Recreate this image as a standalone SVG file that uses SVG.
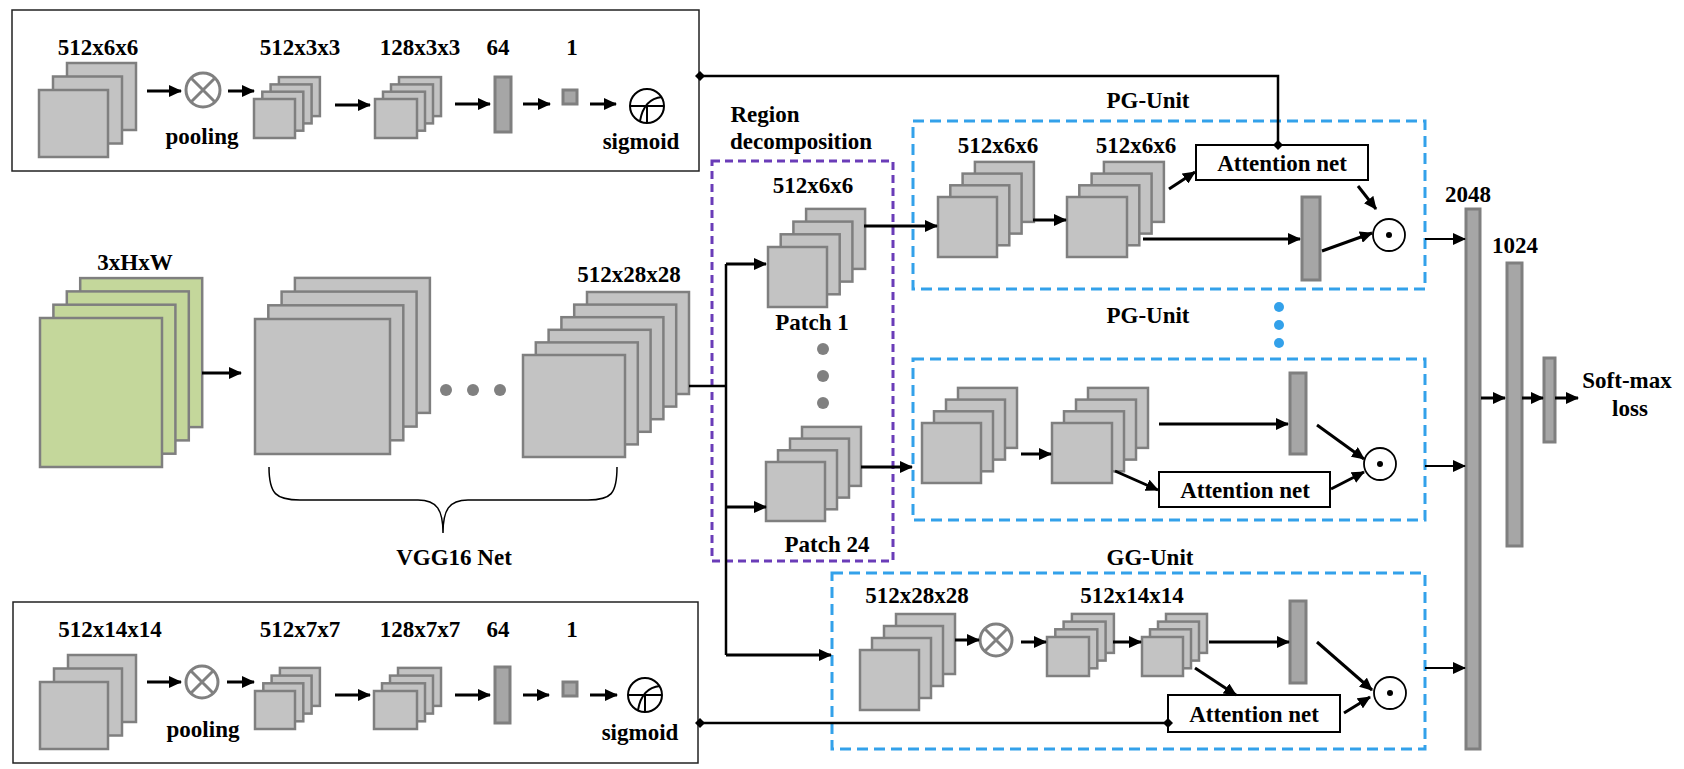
<svg xmlns="http://www.w3.org/2000/svg" width="1684" height="769" viewBox="0 0 1684 769">
<style>
text{font-family:"Liberation Serif","Times New Roman",serif;font-weight:bold;font-size:23px;fill:#000;text-anchor:middle}
.fm rect{fill:#c3c3c3;stroke:#7f7f7f;stroke-width:2.5}
.gr rect{fill:#c4d79b;stroke:#7f7f7f;stroke-width:2.5}
.bar{fill:#a6a6a6;stroke:#7f7f7f;stroke-width:3}
.box{fill:none;stroke:#222;stroke-width:1.5}
.att{fill:#fff;stroke:#000;stroke-width:2}
.blue{fill:none;stroke:#33a1ea;stroke-width:3;stroke-dasharray:11 6}
.purple{fill:none;stroke:#6a3cb8;stroke-width:3;stroke-dasharray:8 5}
.ar{fill:none;stroke:#000;stroke-width:3;marker-end:url(#ah)}
.art{fill:none;stroke:#000;stroke-width:2;marker-end:url(#ah)}
.ln{fill:none;stroke:#000;stroke-width:2.5}
.dl{fill:none;stroke:#000;stroke-width:2.5;marker-start:url(#dm);marker-end:url(#dm)}
.pool circle{fill:none;stroke:#808080;stroke-width:3}
.pool path{stroke:#808080;stroke-width:3}
.sig circle,.sig path{fill:none;stroke:#000;stroke-width:2}
.dot circle.o{fill:#fff;stroke:#000;stroke-width:1.8}
.gd{fill:#808080}
.bd{fill:#33a1ea}
</style>
<defs>
<marker id="ah" markerUnits="userSpaceOnUse" markerWidth="13" markerHeight="12" refX="12" refY="6" orient="auto"><path d="M0,0 L13,6 L0,12 z" fill="#000"/></marker>
<marker id="dm" markerUnits="userSpaceOnUse" markerWidth="10" markerHeight="10" refX="5" refY="5" orient="auto"><path d="M0,5 L5,0 L10,5 L5,10 z" fill="#000"/></marker>
</defs>

<!-- Top attention branch box -->
<g id="top-branch">
<rect class="box" x="12" y="10" width="687" height="161"/>
<text x="98" y="55">512x6x6</text>
<text x="300" y="55">512x3x3</text>
<text x="420" y="55">128x3x3</text>
<text x="498" y="55">64</text>
<text x="572" y="55">1</text>
<text x="202" y="144">pooling</text>
<text x="641" y="149">sigmoid</text>
<g class="fm">
<rect x="67" y="63" width="69" height="67"/><rect x="53" y="76.5" width="69" height="67"/><rect x="39" y="90" width="69" height="67"/>
</g>
<g class="fm">
<rect x="278.9" y="77.1" width="41" height="39"/><rect x="270.6" y="84.4" width="41" height="39"/><rect x="262.3" y="91.7" width="41" height="39"/><rect x="254" y="99" width="41" height="39"/>
</g>
<g class="fm">
<rect x="399" y="77.1" width="42" height="39"/><rect x="391" y="84.4" width="42" height="39"/><rect x="383" y="91.7" width="42" height="39"/><rect x="375" y="99" width="42" height="39"/>
</g>
<g class="pool"><circle cx="203" cy="90" r="17"/><path d="M191,78 L215,102 M215,78 L191,102"/></g>
<rect class="bar" x="495" y="77" width="16" height="55"/>
<rect class="bar" x="563" y="90" width="14" height="14"/>
<g class="sig"><circle cx="647" cy="106" r="17"/><path d="M630,106 L664,106 M647,106 L647,123 M640,121 C643,104 651,98 662,97"/></g>
<path class="ar" d="M147,91 L181,91"/>
<path class="ar" d="M228,91 L254,91"/>
<path class="ar" d="M335,105 L370,105"/>
<path class="ar" d="M455,104 L490,104"/>
<path class="ar" d="M523,104 L550,104"/>
<path class="ar" d="M590,104 L616,104"/>
</g>

<!-- Bottom attention branch box -->
<g id="bottom-branch">
<rect class="box" x="13" y="602" width="685" height="161"/>
<text x="110" y="637">512x14x14</text>
<text x="300" y="637">512x7x7</text>
<text x="420" y="637">128x7x7</text>
<text x="498" y="637">64</text>
<text x="572" y="637">1</text>
<text x="203" y="737">pooling</text>
<text x="640" y="740">sigmoid</text>
<g class="fm">
<rect x="68" y="655" width="68" height="67"/><rect x="54" y="668.5" width="68" height="67"/><rect x="40" y="682" width="68" height="67"/>
</g>
<g class="fm">
<rect x="279.9" y="667.9" width="40" height="38"/><rect x="271.6" y="675.6" width="40" height="38"/><rect x="263.3" y="683.3" width="40" height="38"/><rect x="255" y="691" width="40" height="38"/>
</g>
<g class="fm">
<rect x="398" y="667.9" width="43" height="38"/><rect x="390" y="675.6" width="43" height="38"/><rect x="382" y="683.3" width="43" height="38"/><rect x="374" y="691" width="43" height="38"/>
</g>
<g class="pool"><circle cx="202" cy="682" r="16"/><path d="M191,671 L213,693 M213,671 L191,693"/></g>
<rect class="bar" x="495" y="667" width="15" height="56"/>
<rect class="bar" x="563" y="682" width="14" height="14"/>
<g class="sig"><circle cx="645" cy="695" r="17"/><path d="M628,695 L662,695 M645,695 L645,712 M638,710 C641,693 649,687 660,686"/></g>
<path class="ar" d="M147,682 L181,682"/>
<path class="ar" d="M227,682 L254,682"/>
<path class="ar" d="M335,695 L370,695"/>
<path class="ar" d="M455,695 L490,695"/>
<path class="ar" d="M523,695 L549,695"/>
<path class="ar" d="M590,695 L617,695"/>
</g>

<!-- Input -->
<g id="input">
<text x="135" y="270">3xHxW</text>
<g class="gr">
<rect x="80.2" y="278.1" width="122" height="149"/><rect x="66.8" y="291.4" width="122" height="149"/><rect x="53.4" y="304.7" width="122" height="149"/><rect x="40" y="318" width="122" height="149"/>
</g>
</g>

<!-- VGG16 -->
<g id="vgg16">
<g class="fm">
<rect x="294.9" y="277.9" width="135" height="135"/><rect x="281.6" y="291.6" width="135" height="135"/><rect x="268.3" y="305.3" width="135" height="135"/><rect x="255" y="319" width="135" height="135"/>
</g>
<circle class="gd" cx="446" cy="390" r="6"/><circle class="gd" cx="473" cy="390" r="6"/><circle class="gd" cx="500" cy="390" r="6"/>
<text x="629" y="282">512x28x28</text>
<g class="fm">
<rect x="587" y="292" width="102" height="102"/><rect x="574.2" y="304.6" width="102" height="102"/><rect x="561.4" y="317.2" width="102" height="102"/><rect x="548.6" y="329.8" width="102" height="102"/><rect x="535.8" y="342.4" width="102" height="102"/><rect x="523" y="355" width="102" height="102"/>
</g>
<path class="ln" style="stroke-width:1.5" d="M269,467 C269,494 276,500 300,500 L418,500 C437,500 443,510 443,533 C443,510 449,500 468,500 L588,500 C611,500 617,494 617,467"/>
<text x="454" y="565">VGG16 Net</text>
</g>

<!-- Region decomposition -->
<g id="region">
<text x="765" y="122">Region</text>
<text x="801" y="149">decomposition</text>
<rect class="purple" x="712" y="161" width="181" height="400"/>
<text x="813" y="193">512x6x6</text>
<g class="fm">
<rect x="806.1" y="208.9" width="59" height="60"/><rect x="793.4" y="221.6" width="59" height="60"/><rect x="780.7" y="234.3" width="59" height="60"/><rect x="768" y="247" width="59" height="60"/>
</g>
<text x="812" y="330">Patch 1</text>
<circle class="gd" cx="823" cy="349" r="6"/><circle class="gd" cx="823" cy="376" r="6"/><circle class="gd" cx="823" cy="403" r="6"/>
<g class="fm">
<rect x="802" y="426.9" width="59" height="59"/><rect x="790" y="438.6" width="59" height="59"/><rect x="778" y="450.3" width="59" height="59"/><rect x="766" y="462" width="59" height="59"/>
</g>
<text x="827" y="552">Patch 24</text>
</g>

<!-- PG-Unit 1 -->
<g id="pg-unit-1">
<text x="1148" y="108">PG-Unit</text>
<rect class="blue" x="913" y="121" width="512" height="168"/>
<text x="998" y="153">512x6x6</text>
<text x="1136" y="153">512x6x6</text>
<g class="fm">
<rect x="974.9" y="161.9" width="59" height="60"/><rect x="962.6" y="173.6" width="59" height="60"/><rect x="950.3" y="185.3" width="59" height="60"/><rect x="938" y="197" width="59" height="60"/>
</g>
<g class="fm">
<rect x="1103.9" y="161.9" width="60" height="60"/><rect x="1091.6" y="173.6" width="60" height="60"/><rect x="1079.3" y="185.3" width="60" height="60"/><rect x="1067" y="197" width="60" height="60"/>
</g>
<rect class="att" x="1196" y="145" width="172" height="35"/>
<text x="1282" y="171">Attention net</text>
<rect class="bar" x="1302" y="197" width="18" height="83"/>
<g class="dot"><circle class="o" cx="1389" cy="235" r="16"/><circle cx="1389" cy="235" r="3"/></g>
<path class="ar" d="M1033,220 L1066,220"/>
<path class="ar" d="M1169,189 L1195,172"/>
<path class="ar" d="M1143,239 L1300,239"/>
<path class="ar" d="M1358,186 L1376,209"/>
<path class="ar" d="M1322,251 L1372,233"/>
</g>

<g id="more-units">
<circle class="bd" cx="1279" cy="307" r="5"/><circle class="bd" cx="1279" cy="325" r="5"/><circle class="bd" cx="1279" cy="343" r="5"/>
</g>

<!-- PG-Unit 2 -->
<g id="pg-unit-2">
<text x="1148" y="323">PG-Unit</text>
<rect class="blue" x="913" y="359" width="512" height="161"/>
<g class="fm">
<rect x="958" y="387.9" width="59" height="60"/><rect x="946" y="399.6" width="59" height="60"/><rect x="934" y="411.3" width="59" height="60"/><rect x="922" y="423" width="59" height="60"/>
</g>
<g class="fm">
<rect x="1088" y="387.9" width="60" height="60"/><rect x="1076" y="399.6" width="60" height="60"/><rect x="1064" y="411.3" width="60" height="60"/><rect x="1052" y="423" width="60" height="60"/>
</g>
<rect class="bar" x="1290" y="373" width="16" height="81"/>
<rect class="att" x="1159" y="472" width="171" height="35"/>
<text x="1245" y="498">Attention net</text>
<g class="dot"><circle class="o" cx="1380" cy="464" r="16"/><circle cx="1380" cy="464" r="3"/></g>
<path class="ar" d="M1021,454 L1051,454"/>
<path class="ar" d="M1159,424 L1288,424"/>
<path class="ar" d="M1115,471 L1158,490"/>
<path class="ar" d="M1317,425 L1364,459"/>
<path class="ar" d="M1331,489 L1364,472"/>
</g>

<!-- GG-Unit -->
<g id="gg-unit">
<text x="1150" y="565">GG-Unit</text>
<rect class="blue" x="832" y="573" width="593" height="176"/>
<text x="917" y="603">512x28x28</text>
<text x="1132" y="603">512x14x14</text>
<g class="fm">
<rect x="896" y="614" width="59" height="60"/><rect x="884" y="626" width="59" height="60"/><rect x="872" y="638" width="59" height="60"/><rect x="860" y="650" width="59" height="60"/>
</g>
<g class="pool"><circle cx="996" cy="640" r="16"/><path d="M985,629 L1007,651 M1007,629 L985,651"/></g>
<g class="fm">
<rect x="1071.9" y="613.9" width="42" height="39"/><rect x="1063.6" y="621.6" width="42" height="39"/><rect x="1055.3" y="629.3" width="42" height="39"/><rect x="1047" y="637" width="42" height="39"/>
</g>
<g class="fm">
<rect x="1166" y="613.9" width="41" height="39"/><rect x="1158" y="621.6" width="41" height="39"/><rect x="1150" y="629.3" width="41" height="39"/><rect x="1142" y="637" width="41" height="39"/>
</g>
<rect class="bar" x="1290" y="601" width="16" height="82"/>
<rect class="att" x="1168" y="695" width="172" height="37"/>
<text x="1254" y="722">Attention net</text>
<g class="dot"><circle class="o" cx="1390" cy="693" r="16"/><circle cx="1390" cy="693" r="3"/></g>
<path class="ar" d="M955,640 L979,640"/>
<path class="ar" d="M1021,642 L1046,642"/>
<path class="ar" d="M1113,642 L1141,642"/>
<path class="ar" d="M1209,642 L1289,642"/>
<path class="ar" d="M1195,668 L1236,695"/>
<path class="ar" d="M1317,642 L1372,690"/>
<path class="ar" d="M1344,713 L1370,697"/>
</g>

<!-- Fully connected head -->
<g id="fc-head">
<text x="1468" y="202">2048</text>
<rect class="bar" x="1466" y="209" width="14" height="540"/>
<text x="1515" y="253">1024</text>
<rect class="bar" x="1507" y="263" width="15" height="283"/>
<rect class="bar" x="1544" y="358" width="11" height="84"/>
<text x="1627" y="388">Soft-max</text>
<text x="1630" y="416">loss</text>
</g>

<!-- Connectors -->
<g id="connectors">
<path class="ar" d="M202,373 L241,373"/>
<path class="ln" d="M689,386 L726,386 M726,264 L726,655"/>
<path class="ar" d="M726,264 L766,264"/>
<path class="ar" d="M726,507 L766,507"/>
<path class="ar" d="M726,655 L831,655"/>
<path class="ar" d="M864,226 L937,226"/>
<path class="ar" d="M861,467 L912,467"/>
<path class="dl" d="M700,76 L1278,76 L1278,145"/>
<path class="dl" d="M700,723 L1168,723"/>
<path class="art" d="M1425,239 L1465,239"/>
<path class="art" d="M1425,466 L1465,466"/>
<path class="art" d="M1425,668 L1465,668"/>
<path class="ar" d="M1481,398 L1505,398"/>
<path class="ar" d="M1522,398 L1543,398"/>
<path class="ar" d="M1555,398 L1578,398"/>
</g>
</svg>
